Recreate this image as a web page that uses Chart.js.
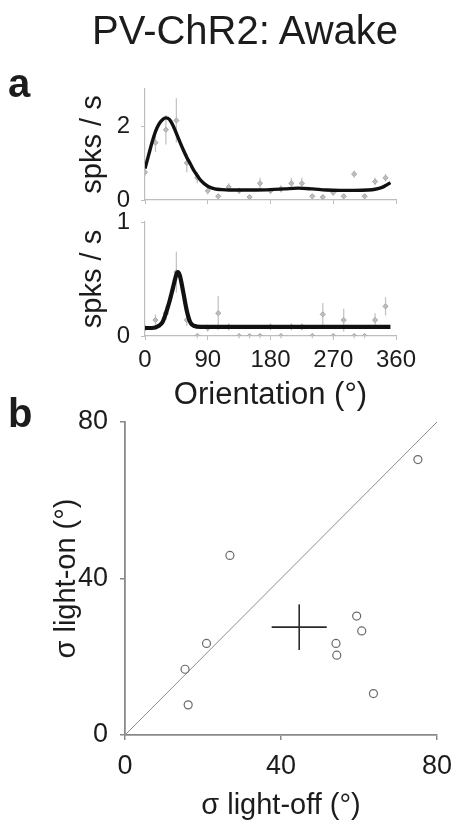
<!DOCTYPE html>
<html>
<head>
<meta charset="utf-8">
<script src="https://cdn.jsdelivr.net/npm/chart.js@4/dist/chart.umd.min.js"></script>
<style>
  html, body { margin: 0; padding: 0; background: #fff; }
  #wrap { position: relative; width: 456px; height: 827px; overflow: hidden; background: #fff; }
  #wrap canvas { position: absolute; left: 0; top: 0; }
  .lbl { position: absolute; font-family: "Liberation Sans", Arial, sans-serif; color: #1c1c1c; white-space: nowrap; line-height: 1; }
</style>
</head>
<body>
<div id="wrap">
  <canvas id="tuneTop" width="456" height="827"></canvas>
  <canvas id="tuneBottom" width="456" height="827"></canvas>
  <canvas id="widths" width="456" height="827"></canvas>
  <div class="lbl" style="left:92px; top:10px; font-size:40px;">PV-ChR2: Awake</div>
  <div class="lbl" style="left:8px; top:63px; font-size:40px; font-weight:bold;">a</div>
  <div class="lbl" style="left:8px; top:393px; font-size:40px; font-weight:bold;">b</div>
</div>
<script>
// ---- orientation tuning, example cell (light off / light on) ----
const orientations = [0, 15, 30, 45, 60, 75, 90, 105, 120, 135, 150, 165,
                      180, 195, 210, 225, 240, 255, 270, 285, 300, 315, 330, 345];

const rateTop    = [0.75, 1.55, 1.9, 2.15, 1.0, 0.6, 0.25, 0.1, 0.35, 0.25, 0.08, 0.45,
                    0.25, 0.3, 0.45, 0.45, 0.1, 0.08, 0.2, 0.1, 0.7, 0.1, 0.5, 0.6];
const semTop     = [0.1, 0.25, 0.4, 0.6, 0.25, 0.15, 0.1, 0.05, 0.1, 0.08, 0.05, 0.15,
                    0.08, 0.1, 0.15, 0.15, 0.05, 0.05, 0.08, 0.05, 0.1, 0.05, 0.1, 0.1];

const rateBottom = [0.07, 0.14, 0.2, 0.56, 0.14, 0.0, 0.07, 0.2, 0.08, 0.0, 0.0, 0.0,
                    0.08, 0.0, 0.08, 0.08, 0.0, 0.19, 0.0, 0.14, 0.0, 0.0, 0.14, 0.26];
const semBottom  = [0.03, 0.05, 0.06, 0.18, 0.05, 0.02, 0.03, 0.15, 0.03, 0.02, 0.02, 0.02,
                    0.03, 0.02, 0.03, 0.03, 0.02, 0.1, 0.02, 0.1, 0.02, 0.02, 0.06, 0.08];

// fitted tuning curves
const fitTopX = [0, 5, 10, 15, 20, 25, 30, 35, 40, 45, 50, 55, 60, 65, 70, 75, 80, 90, 100, 110,
                 120, 140, 160, 180, 200, 220, 240, 260, 280, 300, 320, 330, 340, 345, 352];
const fitTopY = [0.85, 1.2, 1.55, 1.85, 2.05, 2.17, 2.22, 2.18, 2.02, 1.8, 1.57, 1.35, 1.15, 0.98,
                 0.8, 0.66, 0.53, 0.37, 0.3, 0.28, 0.27, 0.27, 0.27, 0.28, 0.3, 0.32, 0.3, 0.27,
                 0.26, 0.26, 0.27, 0.29, 0.34, 0.39, 0.47];

const fitBottomX = [0, 10, 20, 25, 30, 35, 40, 45, 47, 50, 55, 60, 65, 70, 80, 120, 180, 240, 300, 352];
const fitBottomY = [0.07, 0.07, 0.09, 0.12, 0.2, 0.3, 0.42, 0.54, 0.56, 0.53, 0.38, 0.22, 0.12,
                    0.09, 0.08, 0.08, 0.08, 0.08, 0.08, 0.08];

const orientationTicks = [0, 90, 180, 270, 360];
const rateTicksTop = [0, 2];
const rateTicksBottom = [0, 1];

// ---- tuning width, light-off vs light-on ----
const sigmaOff = [75.1, 26.9, 20.9, 15.4, 16.2, 59.4, 60.7, 54.1, 54.3, 63.7];
const sigmaOn  = [70.4, 45.9, 23.4, 16.8, 7.7, 30.4, 26.6, 23.4, 20.4, 10.6];
const sigmaTicks = [0, 40, 80];
const unity = [0, 80];

const FONT = '"Liberation Sans", Arial, sans-serif';
const TEXT = '#1c1c1c';

function meanOf(a) { return a.reduce((s, v) => s + v, 0) / a.length; }
function semOf(a) {
  const m = meanOf(a);
  const v = a.reduce((s, x) => s + (x - m) * (x - m), 0) / (a.length - 1);
  return Math.sqrt(v / a.length);
}
function toPoints(xs, ys) { return xs.map((x, i) => ({ x: x, y: ys[i] })); }
function fixedTicks(values) { return scale => { scale.ticks = values.map(v => ({ value: v })); }; }
// keep the plot edges where the layout padding puts them
function fixHeight(h) { return s => { s.height = h; s.paddingLeft = 0; s.paddingRight = 0; }; }
function fixWidth(w) { return s => { s.width = w; s.paddingTop = 0; s.paddingBottom = 0; }; }

// vertical error bars for datasets that carry an `errors` array
const errorBars = {
  id: 'errorBars',
  beforeDatasetsDraw(chart) {
    const { ctx } = chart;
    const xs = chart.scales.x, ys = chart.scales.y;
    chart.data.datasets.forEach(ds => {
      if (!ds.errors) return;
      ctx.save();
      ctx.strokeStyle = ds.errorColor || '#bbb';
      ctx.lineWidth = 1.3;
      ds.data.forEach((p, j) => {
        const px = xs.getPixelForValue(p.x);
        const y1 = ys.getPixelForValue(p.y + ds.errors[j]);
        const y2 = ys.getPixelForValue(p.y - ds.errors[j]);
        ctx.beginPath();
        ctx.moveTo(px, y1); ctx.lineTo(px, y2);
        ctx.stroke();
      });
      ctx.restore();
    });
  }
};

function tuningChart(id, rates, sems, fitX, fitY, yMax, yTicks, padding, showX, fitWidth) {
  const xScale = {
    type: 'linear', min: 0, max: 360,
    afterBuildTicks: fixedTicks(orientationTicks),
    grid: { drawOnChartArea: false, drawTicks: true, tickLength: 4, color: '#bdbdbd', lineWidth: 1 },
    border: { display: true, color: '#bdbdbd', width: 1.2 },
    ticks: { display: showX, color: TEXT, font: { family: FONT, size: 24 }, padding: 6, maxRotation: 0 },
    title: { display: showX, text: 'Orientation (°)', color: TEXT, font: { family: FONT, size: 31 }, padding: 0 },
    afterFit: fixHeight(showX ? 78 : 4)
  };
  return new Chart(document.getElementById(id), {
    type: 'scatter',
    data: {
      datasets: [
        {
          label: 'fit',
          data: toPoints(fitX, fitY),
          showLine: true,
          pointRadius: 0,
          borderColor: '#111',
          borderWidth: fitWidth,
          cubicInterpolationMode: 'monotone'
        },
        {
          label: 'mean',
          data: toPoints(orientations, rates),
          errors: sems,
          errorColor: '#c4c4c4',
          showLine: false,
          pointStyle: 'rectRot',
          pointRadius: 2.6,
          backgroundColor: '#bdbdbd',
          borderColor: '#a8a8a8',
          borderWidth: 1
        }
      ]
    },
    options: {
      responsive: false,
      animation: false,
      events: [],
      layout: { padding: padding },
      plugins: { legend: { display: false }, tooltip: { enabled: false } },
      scales: {
        x: xScale,
        y: {
          type: 'linear', min: 0, max: yMax,
          afterBuildTicks: fixedTicks(yTicks),
          grid: { drawOnChartArea: false, drawTicks: true, tickLength: 4, color: '#bdbdbd' },
          border: { display: true, color: '#bdbdbd', width: 1.2 },
          ticks: { color: TEXT, font: { family: FONT, size: 24 }, padding: 11 },
          title: { display: true, text: 'spks / s', color: TEXT, font: { family: FONT, size: 29 }, padding: 0 },
          afterFit: fixWidth(69)
        }
      }
    },
    plugins: [errorBars]
  });
}

tuningChart('tuneTop', rateTop, semTop, fitTopX, fitTopY, 3, rateTicksTop,
            { left: 76, right: 60, top: 89, bottom: 623 }, false, 3.4);
tuningChart('tuneBottom', rateBottom, semBottom, fitBottomX, fitBottomY, 1, rateTicksBottom,
            { left: 76, right: 60, top: 222, bottom: 413 }, true, 4.2);

// ---- panel b ----
const mOff = meanOf(sigmaOff), mOn = meanOf(sigmaOn);
const eOff = semOf(sigmaOff), eOn = semOf(sigmaOn);

new Chart(document.getElementById('widths'), {
  type: 'scatter',
  data: {
    datasets: [
      {
        label: 'mean off',
        data: [{ x: mOff - eOff, y: mOn }, { x: mOff + eOff, y: mOn }],
        showLine: true, pointRadius: 0, borderColor: '#2a2a2a', borderWidth: 1.6
      },
      {
        label: 'mean on',
        data: [{ x: mOff, y: mOn - eOn }, { x: mOff, y: mOn + eOn }],
        showLine: true, pointRadius: 0, borderColor: '#2a2a2a', borderWidth: 1.6
      },
      {
        label: 'cells',
        data: toPoints(sigmaOff, sigmaOn),
        showLine: false,
        pointStyle: 'circle',
        pointRadius: 4,
        backgroundColor: 'rgba(255,255,255,0)',
        borderColor: '#6a6a6a',
        borderWidth: 1.2
      },
      {
        label: 'unity',
        data: toPoints(unity, unity),
        showLine: true, pointRadius: 0, borderColor: '#8c8c8c', borderWidth: 1
      }
    ]
  },
  options: {
    responsive: false,
    animation: false,
    events: [],
    layout: { padding: { left: 50, right: 19, top: 422, bottom: 4 } },
    plugins: { legend: { display: false }, tooltip: { enabled: false } },
    scales: {
      x: {
        type: 'linear', min: 0, max: 80,
        afterBuildTicks: fixedTicks(sigmaTicks),
        grid: { drawOnChartArea: false, drawTicks: true, tickLength: 5, color: '#8a8a8a', lineWidth: 1.5 },
        border: { display: true, color: '#8a8a8a', width: 1.8 },
        ticks: { color: TEXT, font: { family: FONT, size: 27 }, padding: 10, maxRotation: 0 },
        title: { display: true, text: 'σ light-off (°)', color: TEXT, font: { family: FONT, size: 29 }, padding: 0 },
        afterFit: fixHeight(88)
      },
      y: {
        type: 'linear', min: 0, max: 80,
        afterBuildTicks: fixedTicks(sigmaTicks),
        grid: { drawOnChartArea: false, drawTicks: true, tickLength: 5, color: '#8a8a8a', lineWidth: 1.5 },
        border: { display: true, color: '#8a8a8a', width: 1.8 },
        ticks: { color: TEXT, font: { family: FONT, size: 27 }, padding: 12 },
        title: { display: true, text: 'σ light-on (°)', color: TEXT, font: { family: FONT, size: 29 }, padding: 0 },
        afterFit: fixWidth(75)
      }
    }
  }
});
</script>
</body>
</html>
